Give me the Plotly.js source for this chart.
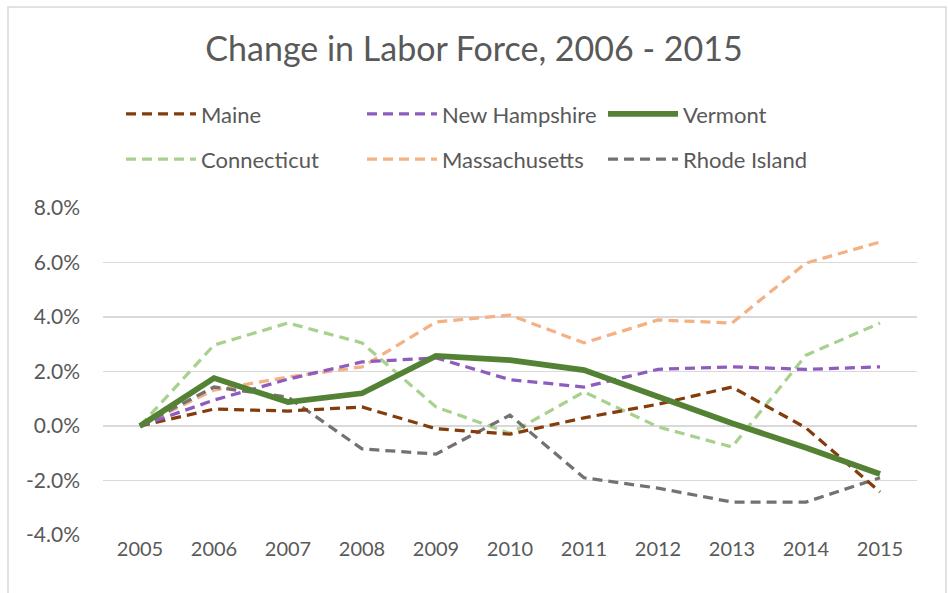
<!DOCTYPE html>
<html>
<head>
<meta charset="utf-8">
<script src="https://cdn.plot.ly/plotly-3.0.1.min.js"></script>
<style>html,body{margin:0;padding:0;background:#fff;}#chart{width:948px;height:593px;}</style>
</head>
<body>
<div id="chart"></div>
<script>
var years = ['2005','2006','2007','2008','2009','2010','2011','2012','2013','2014','2015'];
var maine = [0, 0.62, 0.55, 0.70, -0.10, -0.30, 0.30, 0.80, 1.43, -0.07, -2.42];
var newHampshire = [0, 0.95, 1.72, 2.35, 2.50, 1.70, 1.43, 2.08, 2.17, 2.08, 2.17];
var vermont = [0, 1.76, 0.88, 1.20, 2.57, 2.42, 2.05, 1.07, 0.10, -0.80, -1.76];
var connecticut = [0, 2.97, 3.78, 3.05, 0.70, -0.27, 1.25, -0.03, -0.77, 2.60, 3.78];
var massachusetts = [0, 1.32, 1.80, 2.17, 3.82, 4.07, 3.05, 3.89, 3.78, 5.98, 6.75];
var rhodeIsland = [0, 1.43, 1.06, -0.84, -1.03, 0.40, -1.90, -2.28, -2.79, -2.79, -1.90];
var yTicks = [-4, -2, 0, 2, 4, 6, 8];
var yTickLabels = ['-4.0%', '-2.0%', '0.0%', '2.0%', '4.0%', '6.0%', '8.0%'];

function tr(name, y, color, width, dash, legend) {
  return {x: years, y: y, name: name, type: 'scatter', mode: 'lines',
    line: {color: color, width: width, dash: dash}, legend: legend,
    hoverinfo: 'skip'};
}
var dash = '10px,6px';
var data = [
  tr('Connecticut', connecticut, '#A9D18E', 3.25, dash, 'legend2'),
  tr('Massachusetts', massachusetts, '#F4B183', 3.25, dash, 'legend2'),
  tr('Rhode Island', rhodeIsland, '#767171', 3.25, dash, 'legend2'),
  tr('Maine', maine, '#843C0C', 3.25, dash, 'legend'),
  tr('New Hampshire', newHampshire, '#8E5BBF', 3.25, dash, 'legend'),
  tr('Vermont', vermont, '#548235', 5.75, 'solid', 'legend')
];
var font = {family: 'Lato, "Open Sans", sans-serif', color: '#595959'};
var legendBase = {orientation: 'h', xanchor: 'left', yanchor: 'middle', x: 0.0221,
  traceorder: 'normal', font: {family: font.family, color: '#595959', size: 22},
  itemwidth: 70, entrywidth: 156, entrywidthmode: 'pixels', bgcolor: 'rgba(0,0,0,0)'};
var layout = {
  width: 948, height: 593,
  margin: {l: 103, r: 31, t: 208, b: 58},
  paper_bgcolor: '#fff', plot_bgcolor: '#fff',
  font: font,
  title: {text: 'Change in Labor Force, 2006 - 2015', font: {family: font.family, size: 34, color: '#595959'},
    x: 0.5, xref: 'container', xanchor: 'center', y: 1, yref: 'container', yanchor: 'top', pad: {t: 37}},
  showlegend: true,
  legend: Object.assign({}, legendBase, {y: 1.287}),
  legend2: Object.assign({}, legendBase, {y: 1.149}),
  xaxis: {type: 'category', range: [-0.5, 10.5], showgrid: false, zeroline: false,
    showline: false, ticks: '', tickfont: {size: 20, color: '#595959'}, fixedrange: true},
  yaxis: {range: [-4, 8], tickvals: yTicks, ticktext: yTickLabels, showgrid: true,
    gridcolor: '#D9D9D9', gridwidth: 1.5, zeroline: false, showline: false, ticks: '',
    ticklabelstandoff: 22, tickfont: {size: 21, color: '#595959'}, fixedrange: true},
  shapes: [{type: 'rect', xref: 'paper', yref: 'paper',
    x0: (8 - 103) / 814, x1: (946 - 103) / 814, y0: (535 - 600) / 327, y1: (535 - 7) / 327,
    line: {color: '#D9D9D9', width: 1.5}, fillcolor: 'rgba(0,0,0,0)', layer: 'below'}]
};
Plotly.newPlot('chart', data, layout, {displayModeBar: false, staticPlot: true});
</script>
</body>
</html>
